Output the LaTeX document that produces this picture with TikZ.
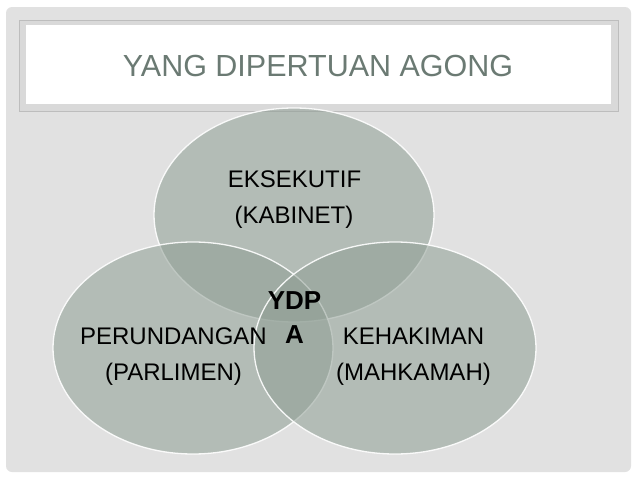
\documentclass[tikz,border=0pt]{standalone}
\usepackage{fontspec}
\setmainfont{Liberation Sans}
\definecolor{framegray}{HTML}{E1E1E1}
\definecolor{bandgray}{HTML}{D9D9D9}
\definecolor{linegray}{HTML}{BDBDBD}
\definecolor{titlegreen}{HTML}{6B7A73}
\definecolor{venngreen}{RGB}{143,158,148}
\tikzset{
  venn/.style={fill=venngreen, fill opacity=0.55, draw=white, draw opacity=0.9, line width=1.3pt},
  title/.style={font=\fontsize{30.5}{36}\selectfont, text=titlegreen, anchor=base, inner sep=0pt},
  lbl/.style={font=\fontsize{24}{28}\selectfont, text=black, anchor=base, inner sep=0pt},
  ydp/.style={font=\fontsize{26}{30}\selectfont\bfseries, text=black, anchor=base, inner sep=0pt}
}
\begin{document}
\begin{tikzpicture}[x=1pt,y=-1pt]
\useasboundingbox (0,0) rectangle (638,479);
% slide background
\fill[white] (0,0) rectangle (638,479);
\fill[framegray, rounded corners=6pt] (6,7) rectangle (631,472);
% title bar
\draw[fill=bandgray, draw=linegray, line width=0.8pt] (19,20) rectangle (618,111);
\fill[white] (26,25) rectangle (611,104);
\node[title] (title) at (318,76) {YANG DIPERTUAN AGONG};
% three circles
\draw[venn] (294,215) ellipse (140pt and 107pt);
\draw[venn] (193,348) ellipse (140pt and 106pt);
\draw[venn] (395,348) ellipse (141pt and 106pt);
% labels
\node[lbl] (eks) at (294.5,187.5) {EKSEKUTIF};
\node[lbl] (kab) at (294,223.5) {(KABINET)};
\node[lbl] (per) at (173.5,344.5) {PERUNDANGAN};
\node[lbl] (par) at (173.5,380.5) {(PARLIMEN)};
\node[lbl] (hak) at (413.5,344.5) {KEHAKIMAN};
\node[lbl] (mah) at (413.5,380.5) {(MAHKAMAH)};
\node[ydp] (ydp) at (294.5,309) {YDP};
\node[ydp] (ydpa) at (294.5,343) {A};
\end{tikzpicture}
\end{document}
